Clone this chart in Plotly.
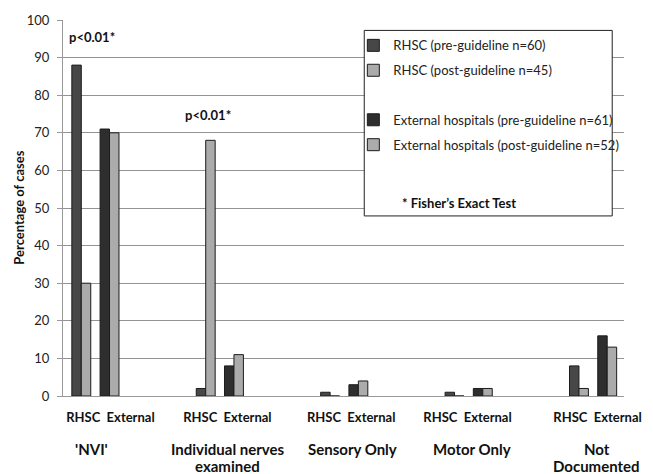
import plotly.graph_objects as go

# ---- data ----
groups = ["'NVI'", "Individual nerves<br>examined", "Sensory Only", "Motor Only", "Not<br>Documented"]
rhsc_pre = [88, 2, 1, 1, 8]
rhsc_post = [30, 68, 0, 0, 2]
ext_pre = [71, 8, 3, 2, 16]
ext_post = [70, 11, 4, 2, 13]
sub_label = "RHSC  External"
series_names = [
    "RHSC (pre-guideline n=60)",
    "RHSC (post-guideline n=45)",
    "External hospitals (pre-guideline n=61)",
    "External hospitals (post-guideline n=52)",
]
y_ticks = list(range(0, 101, 10))
p_notes = ["p<0.01*", "p<0.01*"]
p_note_pos = [(-0.03, 95.5), (0.906, 74.8)]

# label placement tweaks (layout only)
sub_label_shift = [0.12, 0.06, 0.055, -0.01, 0.035]
group_label_shift = [-0.03, 0.063, 0.065, 0.024, 0.028]

FONT = "Lato"
xs = list(range(len(groups)))
W = 0.076
PH = 379.0  # plot height in px


def py(pix):
    return (396.5 - pix) / PH


fig = go.Figure()
specs = [
    (rhsc_pre, series_names[0], "#474747", -0.190, "legend", "g1"),
    (rhsc_post, series_names[1], "#ababab", -0.114, "legend", "g2"),
    (ext_pre, series_names[2], "#2e2e2e", 0.037, "legend2", "g3"),
    (ext_post, series_names[3], "#ababab", 0.113, "legend2", "g4"),
]
for vals, name, col, off, leg, grp in specs:
    fig.add_trace(go.Bar(
        x=xs, y=vals, name=name, width=W, offset=off,
        marker=dict(color=col, line=dict(color="#1c1c1c", width=1)),
        legend=leg, legendgroup=grp,
    ))

# legend box
fig.add_shape(type="rect", xref="paper", yref="paper",
              x0=0.537, x1=0.979, y0=py(215), y1=py(28),
              line=dict(color="#222222", width=1), fillcolor="white", layer="above")

ann = []
for (px, pyv), t in zip(p_note_pos, p_notes):
    ann.append(dict(x=px, y=pyv, xref="x", yref="y", text=f"<b>{t}</b>", showarrow=False,
                    font=dict(family=FONT, size=13, color="#111")))
for i, g in enumerate(groups):
    for j, line in enumerate(g.split("<br>")):
        ann.append(dict(x=i + group_label_shift[i], y=py(450 + 17.5 * j), xref="x", yref="paper",
                        text=f"<b>{line}</b>", showarrow=False, yanchor="middle",
                        font=dict(family=FONT, size=15, color="#111")))
ann.append(dict(x=(18 - 63) / 570, y=0.5, xref="paper", yref="paper", text="<b>Percentage of cases</b>",
                xanchor="center", yanchor="middle",
                textangle=-90, showarrow=False, font=dict(family=FONT, size=13, color="#111")))
ann.append(dict(x=(405 - 63) / 570, y=py(202), xref="paper", yref="paper",
                xanchor="left", text="<b>* Fisher\u2019s Exact Test</b>", showarrow=False,
                font=dict(family=FONT, size=13, color="#111")))

fig.update_layout(
    width=653, height=474,
    margin=dict(l=63, r=20, t=17, b=78),
    paper_bgcolor="white", plot_bgcolor="white",
    font=dict(family=FONT, size=12, color="#222"),
    barmode="overlay",
    annotations=ann,
    legend=dict(x=(358 - 63) / 570, y=py(28), xanchor="left", yanchor="top",
                bgcolor="rgba(0,0,0,0)", tracegroupgap=5, font=dict(family=FONT, size=13, color="#222")),
    legend2=dict(x=(358 - 63) / 570, y=py(103), xanchor="left", yanchor="top",
                 bgcolor="rgba(0,0,0,0)", tracegroupgap=5, font=dict(family=FONT, size=13, color="#222")),
    xaxis=dict(range=[-0.261, 4.248], tickvals=[i + s for i, s in zip(xs, sub_label_shift)],
               ticktext=[f"<b>{sub_label}</b>"] * len(xs), ticks="", showgrid=False,
               showline=True, linecolor="#999", linewidth=1, zeroline=False,
               tickfont=dict(family=FONT, size=13, color="#111"), ticklabelstandoff=9),
    yaxis=dict(range=[0, 100], tickvals=y_ticks, showgrid=True, gridcolor="#939393", gridwidth=1,
               showline=True, linecolor="#999", linewidth=1, ticks="outside", ticklen=5,
               tickcolor="#999", zeroline=False, ticklabelstandoff=5,
               tickfont=dict(family=FONT, size=13, color="#222")),
    showlegend=True,
)
fig.write_html("out.html", config={"displayModeBar": False},
               post_script="document.body.style.margin='0';")
